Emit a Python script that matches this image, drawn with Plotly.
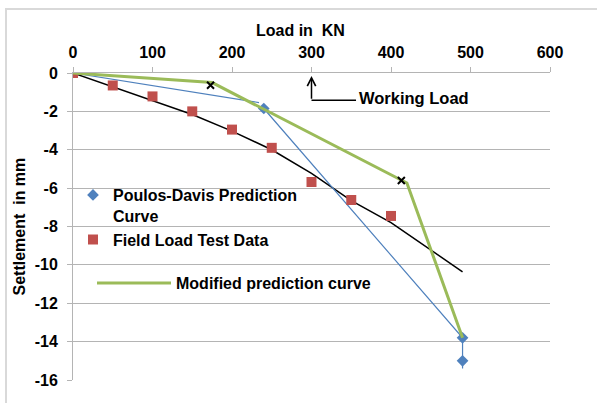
import plotly.graph_objects as go

# ---- data ----
field_load = [0, 50, 100, 150, 200, 250, 300, 350, 400]
field_settle = [0, -0.65, -1.22, -2.0, -2.95, -3.9, -5.68, -6.62, -7.45]

trend_load = [0, 50, 100, 150, 200, 250, 300, 350, 400, 450, 490]
trend_settle = [0, -0.72, -1.45, -2.16, -3.03, -4.0, -5.23, -6.65, -7.8, -9.2, -10.36]

pd_line_load = [0, 234, None, 240, 490, 490, 490]
pd_line_settle = [0, -1.54, None, -1.85, -13.8, -15.0, -15.4]
pd_pts_load = [240, 490, 490]
pd_pts_settle = [-1.85, -13.8, -15.0]

mod_load = [0, 175, 420, 490]
mod_settle = [0, -0.5, -5.73, -13.8]

x_mark_load = [173, 413]
x_mark_settle = [-0.64, -5.6]

working_load = 300

x_ticks = [0, 100, 200, 300, 400, 500, 600]
y_ticks = [0, -2, -4, -6, -8, -10, -12, -14, -16]

# ---- layout geometry ----
W, H = 597, 403
ML, MR, MT, MB = 73, 47, 73, 23
PW, PH = W - ML - MR, H - MT - MB


def px_x(p):
    return (p - ML) / PW


def px_y(p):
    return 1 - (p - MT) / PH


FONT = "Liberation Sans, Arial, sans-serif"
BLUE = "#4f81bd"
RED = "#c0504d"
GREEN = "#9bbb59"
GRID = "#b4b4b4"

fig = go.Figure()

fig.add_trace(go.Scatter(x=trend_load, y=trend_settle, mode="lines",
                         line=dict(color="black", width=1.5), showlegend=False,
                         hoverinfo="skip"))
fig.add_trace(go.Scatter(x=pd_line_load, y=pd_line_settle, mode="lines",
                         line=dict(color=BLUE, width=1.2), showlegend=False,
                         connectgaps=False, hoverinfo="skip"))
fig.add_trace(go.Scatter(x=field_load, y=field_settle, mode="markers",
                         name="Field Load Test Data", legendrank=2,
                         marker=dict(symbol="square", size=10, color=RED)))
fig.add_trace(go.Scatter(x=pd_pts_load, y=pd_pts_settle, mode="markers",
                         name="Poulos-Davis Prediction<br>Curve", legendrank=1,
                         marker=dict(symbol="diamond", size=9, color=BLUE)))
fig.add_trace(go.Scatter(x=mod_load, y=mod_settle, mode="lines",
                         name="Modified prediction curve", legendrank=3,
                         legend="legend2",
                         line=dict(color=GREEN, width=3)))
fig.add_trace(go.Scatter(x=x_mark_load, y=x_mark_settle, mode="markers",
                         showlegend=False,
                         marker=dict(symbol="x-thin", size=7,
                                     line=dict(color="black", width=2))))

# Working load arrow
fig.add_annotation(x=working_load, y=-0.15, ax=working_load, ay=-1.42,
                   xref="x", yref="y", axref="x", ayref="y", text="",
                   showarrow=True, arrowhead=5, arrowsize=1.1, arrowwidth=1.5,
                   arrowcolor="black")
fig.add_shape(type="line", x0=working_load, x1=356, y0=-1.42, y1=-1.42,
              xref="x", yref="y", line=dict(color="black", width=1.5))
fig.add_annotation(x=357, y=-1.32, xref="x", yref="y", text="Working Load",
                   showarrow=False, xanchor="left", yanchor="middle",
                   font=dict(family=FONT, size=16.5, color="black", weight="bold"))

# Axis titles
fig.add_annotation(x=px_x(300), y=px_y(31), xref="paper", yref="paper",
                   text="Load in  KN", showarrow=False, xanchor="center",
                   yanchor="middle",
                   font=dict(family=FONT, size=16, color="black", weight="bold"))
fig.add_annotation(x=px_x(19), y=0.5, xref="paper", yref="paper",
                   text="Settlement  in mm", showarrow=False, textangle=-90,
                   xanchor="center", yanchor="middle",
                   font=dict(family=FONT, size=16, color="black", weight="bold"))

# Outer border
fig.add_shape(type="rect", xref="paper", yref="paper",
              x0=px_x(6), x1=px_x(W + 10), y0=px_y(9), y1=px_y(H + 10),
              line=dict(color="#d9d9d9", width=2), layer="below")

fig.update_layout(
    width=W, height=H,
    margin=dict(l=ML, r=MR, t=MT, b=MB),
    paper_bgcolor="white", plot_bgcolor="white",
    font=dict(family=FONT, size=16, color="black", weight="bold"),
    legend=dict(x=px_x(73), y=px_y(178), xanchor="left", yanchor="top",
                bgcolor="rgba(0,0,0,0)", valign="top", tracegroupgap=0,
                font=dict(family=FONT, size=16, color="black", weight="bold")),
    legend2=dict(x=px_x(92), y=px_y(266), xanchor="left", yanchor="top",
                 bgcolor="rgba(0,0,0,0)", itemwidth=74,
                 font=dict(family=FONT, size=16, color="black", weight="bold")),
    xaxis=dict(side="top", range=[0, 600], tickvals=x_ticks,
               ticktext=[str(v) for v in x_ticks],
               showline=True, linecolor=GRID, linewidth=1,
               ticks="outside", ticklen=5, tickcolor=GRID,
               showgrid=False, zeroline=False, ticklabelstandoff=3,
               tickfont=dict(family=FONT, size=16, color="black", weight="bold")),
    yaxis=dict(range=[-16, 0], tickvals=y_ticks,
               ticktext=[str(v) for v in y_ticks],
               showline=True, linecolor=GRID, linewidth=1,
               ticks="outside", ticklen=5, tickcolor=GRID,
               showgrid=True, gridcolor=GRID, gridwidth=1, zeroline=False,
               ticklabelstandoff=6,
               tickfont=dict(family=FONT, size=16, color="black", weight="bold")),
)

fig.write_html("out.html", config={"displayModeBar": False},
               post_script="document.body.style.margin='0';")
